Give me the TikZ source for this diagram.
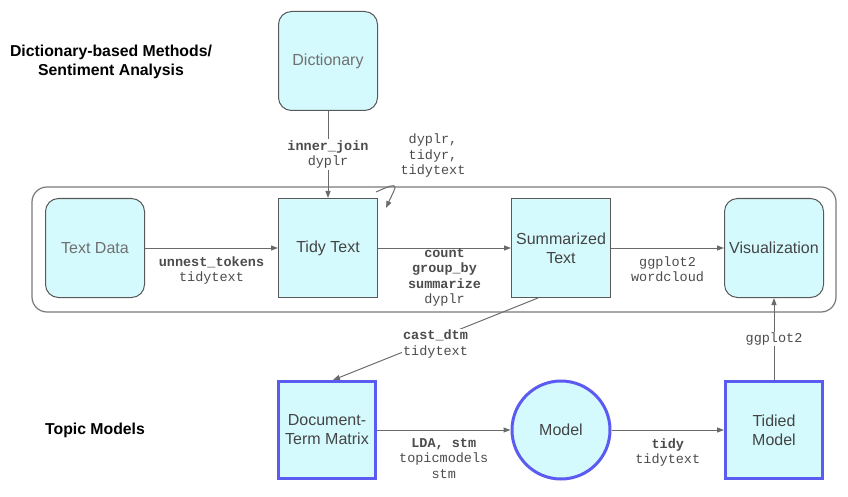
\documentclass[tikz,border=0pt]{standalone}
\usepackage{fontspec}
\setmainfont{Liberation Sans}
\setmonofont{Liberation Mono}
\usetikzlibrary{arrows.meta,calc}

\definecolor{boxfill}{HTML}{D5FAFD}
\definecolor{boxline}{HTML}{595959}
\definecolor{topicblue}{HTML}{5B5BF2}
\definecolor{edgegray}{HTML}{6A6A6A}
\definecolor{txtgray}{HTML}{707070}
\definecolor{txtdark}{HTML}{444444}

\tikzset{
  stepnode/.style={draw=boxline, line width=1pt, fill=boxfill, minimum width=99pt, minimum height=99pt,
    align=center, font=\fontsize{16}{19}\selectfont, text=txtdark},
  roundnode/.style={stepnode, rounded corners=13pt},
  topicnode/.style={stepnode, draw=topicblue, line width=3pt, minimum width=97pt, minimum height=97pt},
  arr/.style={-{Triangle[length=7pt,width=5pt]}, draw=edgegray, line width=1pt},
  fn/.style={font=\fontsize{13.5}{15.5}\selectfont\ttfamily, text=black!70, align=center, inner sep=1pt},
  sect/.style={font=\fontsize{15.8}{19.5}\selectfont\bfseries, align=center, inner sep=0pt}
}

\begin{document}
\begin{tikzpicture}[x=1pt, y=-1pt]
    \useasboundingbox (0,0) rectangle (848,497);
    % Section titles
    \node[sect] (dictitle) at (111,62) {Dictionary-based Methods/\\Sentiment Analysis};
    \node[sect] (topictitle) at (95,430) {Topic Models};
    % Tidy text workflow frame
    \draw[draw=edgegray!90, line width=1.2pt, rounded corners=15pt] (32,187) rectangle (836,312);
    % Nodes
    \node[roundnode, text=txtgray] (dict) at (328,61) {Dictionary};
    \node[roundnode, text=txtgray] (textdata) at (95,248) {Text Data};
    \node[stepnode] (tidy) at (328,248) {Tidy Text};
    \node[stepnode] (summ) at (561,248) {Summarized\\Text};
    \node[roundnode] (vis) at (774,248) {Visualization};
    \node[topicnode] (dtm) at (327,430) {Document-\\Term Matrix};
    \node[topicnode, circle, minimum size=98pt] (model) at (561,430) {Model};
    \node[topicnode] (tidied) at (774,430) {Tidied\\Model};
    % Connectors
    \draw[arr] (dict) -- node[fn, fill=white] {\textbf{inner\_join}\\dyplr} (tidy);
    \draw[arr] (textdata) -- node[fn, below, yshift=-7pt] {\textbf{unnest\_tokens}\\tidytext} (tidy);
    \draw[arr] (tidy) -- node[fn, below, yshift=1pt] {\textbf{count}\\\textbf{group\_by}\\\textbf{summarize}\\dyplr} (summ);
    \draw[arr] (summ) -- node[fn, below, yshift=-7pt] {ggplot2\\wordcloud} (vis);
    % Self loop on tidy text
    \coordinate (loopstart) at ([xshift=-2pt,yshift=6pt]tidy.north east);
    \coordinate (loopend) at ([xshift=8pt,yshift=-10pt]tidy.north east);
    \draw[arr] (loopstart) .. controls +(26pt,12pt) and +(10pt,22pt) .. (loopend);
    \node[fn] (looplbl) at (433,156) {dyplr,\\tidyr,\\tidytext};
    % Into topic models and back
    \draw[arr] ([xshift=-23pt]summ.south) -- node[fn, fill=white, yshift=-5pt] {\textbf{cast\_dtm}\\tidytext} ([xshift=6pt]dtm.north);
    \draw[arr] (dtm) -- node[fn, below, yshift=-7pt] {\textbf{LDA, stm}\\topicmodels\\stm} (model);
    \draw[arr] (model) -- node[fn, below, yshift=-7pt] {\textbf{tidy}\\tidytext} (tidied);
    \draw[arr] (tidied) -- node[fn, fill=white] {ggplot2} (vis);
\end{tikzpicture}
\end{document}
